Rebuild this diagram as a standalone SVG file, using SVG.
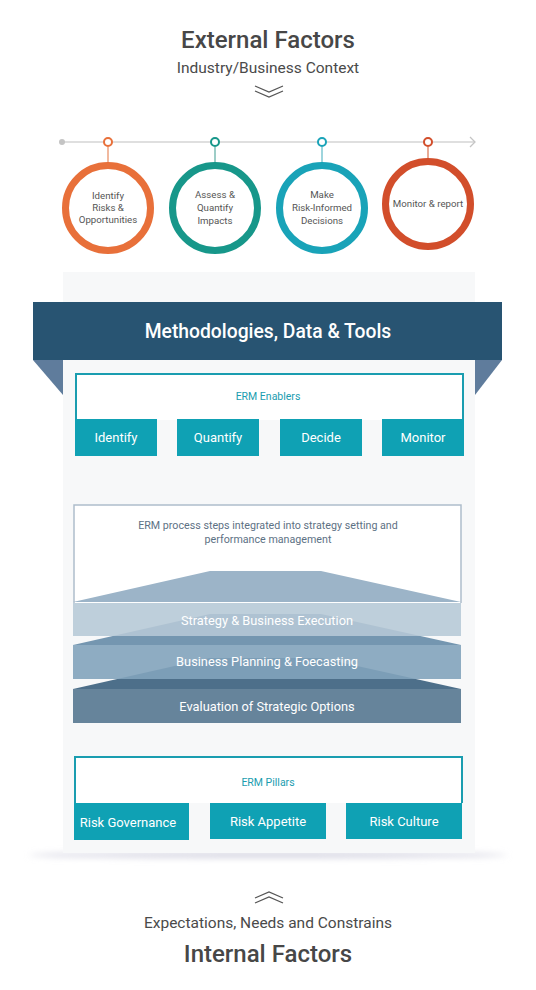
<svg xmlns="http://www.w3.org/2000/svg" width="536" height="990" viewBox="0 0 536 990">
<style>
text{font-family:"Roboto","Liberation Sans",sans-serif}
.h1{font-size:24px;font-weight:500;fill:#474747;text-anchor:middle}
.h2{font-size:15.5px;fill:#4a4a4a;text-anchor:middle}
.ct{font-size:9.7px;fill:#555;text-anchor:middle}
.chev{fill:none;stroke:#555;stroke-width:1.3}
.tl{fill:#fff;stroke-width:2}
.ring{fill:#fff;stroke-width:7}
.teal{fill:#0fa1b4}
.btn{font-size:13px;fill:#fff;text-anchor:middle}
.lbl{font-size:10.5px;fill:#1a9db0;text-anchor:middle}
.outl{fill:none;stroke:#1a9db0;stroke-width:2}
.band{font-size:12.8px;fill:#fff;text-anchor:middle}
</style>
<defs>
<filter id="blur" x="-20%" y="-300%" width="140%" height="700%"><feGaussianBlur stdDeviation="3"/></filter>
</defs>
<rect width="536" height="990" fill="#fff"/>

<g id="external-factors">
<text class="h1" x="268" y="48">External Factors</text>
<text class="h2" x="268" y="73">Industry/Business Context</text>
<polyline class="chev" points="255,86 269,92 283,86"/>
<polyline class="chev" points="255,91 269,97 283,91"/>
</g>

<g id="connectors">
<line x1="62" y1="142" x2="474" y2="142" stroke="#d4d4d4" stroke-width="1.5"/>
<circle cx="62" cy="142" r="3" fill="#c4c4c4"/>
<polyline points="470,137 475,142 470,147" fill="none" stroke="#c4c4c4" stroke-width="1.3"/>
<line x1="108" y1="147" x2="108" y2="163" stroke="#eda27f" stroke-width="1.5"/>
<line x1="215" y1="147" x2="215" y2="163" stroke="#7cbdb5" stroke-width="1.5"/>
<line x1="322" y1="147" x2="322" y2="163" stroke="#7ec7d2" stroke-width="1.5"/>
<line x1="428" y1="147" x2="428" y2="159" stroke="#e08e72" stroke-width="1.5"/>
<circle class="tl" cx="108" cy="142" r="4" stroke="#e8703a"/>
<circle class="tl" cx="215" cy="142" r="4" stroke="#17978a"/>
<circle class="tl" cx="322" cy="142" r="4" stroke="#19a3b8"/>
<circle class="tl" cx="428" cy="142" r="4" stroke="#d24e2b"/>
</g>

<g id="step-identify">
<circle class="ring" cx="108" cy="208" r="42.5" stroke="#e8703a"/>
<text class="ct" x="108" y="199">Identify</text>
<text class="ct" x="108" y="211">Risks &amp;</text>
<text class="ct" x="108" y="223">Opportunities</text>
</g>
<g id="step-assess">
<circle class="ring" cx="215" cy="208" r="42.5" stroke="#17978a"/>
<text class="ct" x="215" y="198">Assess &amp;</text>
<text class="ct" x="215" y="211">Quantify</text>
<text class="ct" x="215" y="224">Impacts</text>
</g>
<g id="step-decide">
<circle class="ring" cx="322" cy="208" r="42.5" stroke="#19a3b8"/>
<text class="ct" x="322" y="198">Make</text>
<text class="ct" x="322" y="211">Risk-Informed</text>
<text class="ct" x="322" y="224">Decisions</text>
</g>
<g id="step-monitor">
<circle class="ring" cx="428" cy="204" r="42.5" stroke="#d24e2b"/>
<text class="ct" x="428" y="207">Monitor &amp; report</text>
</g>

<g id="panel">
<ellipse cx="268" cy="855" rx="240" ry="3" fill="#d6d6e2" filter="url(#blur)"/>
<rect x="63" y="272" width="412" height="581" fill="#f7f8f9"/>
</g>

<g id="banner">
<polygon points="33,360 63,360 63,395" fill="#5f7c9c"/>
<polygon points="502,360 475,360 475,395" fill="#5f7c9c"/>
<rect x="33" y="302" width="469" height="58" fill="#285472"/>
<text x="268" y="338" font-size="19.3" font-weight="500" fill="#fff" text-anchor="middle">Methodologies, Data &amp; Tools</text>
</g>

<g id="erm-enablers">
<rect x="76" y="374" width="387" height="46" fill="#fff"/>
<path class="outl" d="M76,420 V374 H463 V420"/>
<text class="lbl" x="268" y="400">ERM Enablers</text>
<g id="enabler-identify"><rect class="teal" x="75" y="419" width="82" height="37"/><text class="btn" x="116" y="442">Identify</text></g>
<g id="enabler-quantify"><rect class="teal" x="177" y="419" width="82" height="37"/><text class="btn" x="218" y="442">Quantify</text></g>
<g id="enabler-decide"><rect class="teal" x="280" y="419" width="82" height="37"/><text class="btn" x="321" y="442">Decide</text></g>
<g id="enabler-monitor"><rect class="teal" x="382" y="419" width="82" height="37"/><text class="btn" x="423" y="442">Monitor</text></g>
</g>

<g id="erm-process">
<rect x="74" y="505" width="387" height="98" fill="#fff"/>
<path d="M74,603 V505 H461 V603" fill="none" stroke="#aebdcb" stroke-width="1.5"/>
<text x="268" y="529" font-size="10.7" fill="#5d7184" text-anchor="middle">ERM process steps integrated into strategy setting and</text>
<text x="268" y="543" font-size="10.7" fill="#5d7184" text-anchor="middle">performance management</text>
<polygon points="73,602 210,571 321,571 461,602" fill="#9cb4c8"/>
<polygon points="73,645 210,614 321,614 461,645" fill="#7496b0"/>
<polygon points="73,689 210,658 321,658 461,689" fill="#4d6f8a"/>
<rect x="73" y="603" width="388" height="33" fill="#b6c8d6" opacity="0.88"/>
<rect x="73" y="645" width="388" height="34" fill="#82a3bb" opacity="0.9"/>
<rect x="73" y="689" width="388" height="34" fill="#66849b"/>
<text class="band" x="267" y="625">Strategy &amp; Business Execution</text>
<text class="band" x="267" y="666">Business Planning &amp; Foecasting</text>
<text class="band" x="267" y="711">Evaluation of Strategic Options</text>
</g>

<g id="erm-pillars">
<rect x="75" y="757" width="387" height="46" fill="#fff"/>
<path class="outl" d="M75,803 V757 H462 V803"/>
<text class="lbl" x="268" y="786">ERM Pillars</text>
<g id="pillar-governance"><rect class="teal" x="74" y="803" width="115" height="37"/><text class="btn" x="128" y="827">Risk Governance</text></g>
<g id="pillar-appetite"><rect class="teal" x="210" y="803" width="116" height="36"/><text class="btn" x="268" y="826">Risk Appetite</text></g>
<g id="pillar-culture"><rect class="teal" x="346" y="803" width="116" height="36"/><text class="btn" x="404" y="826">Risk Culture</text></g>
</g>

<g id="internal-factors">
<polyline class="chev" points="255,898 269,892 283,898"/>
<polyline class="chev" points="255,903 269,897 283,903"/>
<text class="h2" x="268" y="928">Expectations, Needs and Constrains</text>
<text class="h1" x="268" y="962">Internal Factors</text>
</g>
</svg>
